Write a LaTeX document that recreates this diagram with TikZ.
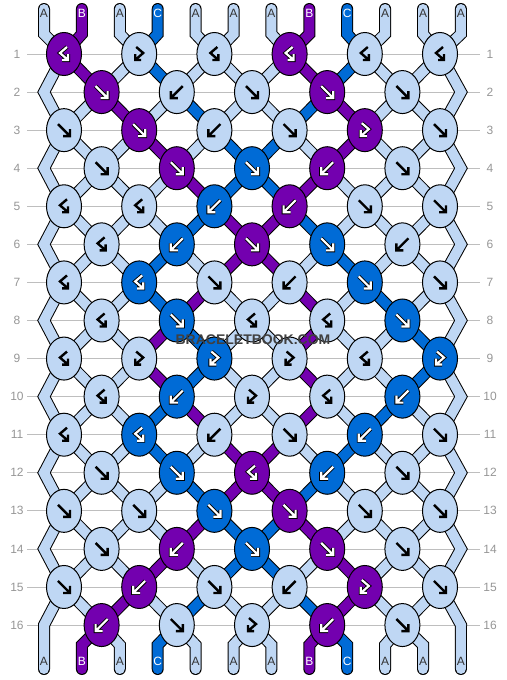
\documentclass[tikz,border=0pt]{standalone}
\usepackage{fontspec}
\setmainfont{Liberation Sans}
\usetikzlibrary{backgrounds,shapes.geometric}
\definecolor{colA}{RGB}{191,215,244}
\definecolor{colB}{RGB}{115,0,175}
\definecolor{colC}{RGB}{0,107,214}
\definecolor{rowgrey}{RGB}{150,150,150}
\definecolor{linegrey}{RGB}{190,190,190}
\tikzstyle{knot}=[ellipse,draw=black,line width=1,minimum width=35,minimum height=43,inner sep=0]
\tikzstyle{glyA}=[black,line width=2.4]
\tikzstyle{glyB}=[white,line width=2.2,preaction={draw=black,line width=4}]
\tikzstyle{glyC}=[glyB]
\tikzstyle{lblA}=[text=black!80,font=\fontsize{12}{12}\selectfont,inner sep=0]
\tikzstyle{lblB}=[text=white,font=\fontsize{12}{12}\selectfont,inner sep=0]
\tikzstyle{lblC}=[lblB]
\tikzstyle{rownum}=[text=rowgrey,font=\fontsize{12}{12}\selectfont,minimum width=20,inner sep=0]
\tikzstyle{gridline}=[linegrey,line width=0.8]
\tikzstyle{wmark}=[text=black!75,font=\bfseries\fontsize{14}{14}\selectfont,inner sep=1]
\tikzset{band1/.style={black,line width=12,line cap=round,line join=miter},
  band2/.style={col#1,line width=10,line cap=round,line join=miter}}
%% knot glyphs: forward, backward, forward-backward, backward-forward
\newcommand{\glyphf}[2]{\draw[gly#2,shift={(#1)}] (-6,-6) -- (6,6) (-1,6) -- (6,6) -- (6,-1);}
\newcommand{\glyphb}[2]{\draw[gly#2,shift={(#1)},xscale=-1] (-6,-6) -- (6,6) (-1,6) -- (6,6) -- (6,-1);}
\newcommand{\glyphfb}[2]{\draw[gly#2,shift={(#1)}] (-3,-7) -- (4,-1) -- (-4,6) (2,6) -- (-4,6) -- (-4,0);}
\newcommand{\glyphbf}[2]{\draw[gly#2,shift={(#1)},xscale=-1] (-3,-7) -- (4,-1) -- (-4,6) (2,6) -- (-4,6) -- (-4,0);}

\begin{document}
\begin{tikzpicture}[x=1pt,y=-1pt]
%%frame
\useasboundingbox (0,0) rectangle (506,680);
%%row numbers
\foreach \r in {1,...,16}{
  \pgfmathsetmacro{\y}{54+38.07*(\r-1)}
  \node[rownum] (nl-\r) at (17,\y) {\r};
  \node[rownum] (nr-\r) at (490,\y) {\r};
}
%%knots
\foreach \kl [count=\r] in {
  {bf/B,fb/A,bf/A,bf/B,bf/A,bf/A},
  {f/B,b/A,f/A,f/B,f/A},
  {f/A,f/B,b/A,f/A,fb/B,f/A},
  {f/A,f/B,f/C,b/B,f/A},
  {bf/A,bf/A,b/C,b/B,f/A,f/A},
  {bf/A,b/C,f/B,f/C,b/A},
  {bf/A,bf/C,f/A,b/A,f/C,f/A},
  {bf/A,f/C,bf/A,bf/A,f/C},
  {bf/A,fb/A,fb/C,fb/A,bf/A,fb/C},
  {bf/A,b/C,fb/A,bf/A,b/C},
  {bf/A,bf/C,b/A,f/A,b/C,f/A},
  {f/A,f/C,bf/B,b/C,f/A},
  {f/A,f/A,f/C,f/B,f/A,f/A},
  {f/A,b/B,f/C,f/B,f/A},
  {f/A,b/B,f/A,b/A,fb/B,f/A},
  {b/B,f/A,fb/A,b/B,f/A}}{
  \foreach \t/\c [count=\i] in \kl {
    \pgfmathsetmacro{\x}{mod(\r,2)==1 ? 64+75.2*(\i-1) : 101.6+75.2*(\i-1)}
    \pgfmathsetmacro{\y}{54+38.07*(\r-1)}
    \node[knot,fill=col\c] (k-\r-\i) at (\x,\y) {};
    \csname glyph\t\endcsname{k-\r-\i}{\c}
  }
}
%%string positions per row
\foreach \r in {1,...,16}{
  \pgfmathsetmacro{\y}{54+38.07*(\r-1)}
  \foreach \p in {0,...,11}{
    \ifodd\r
      \pgfmathtruncatemacro{\i}{\p/2+1}
      \coordinate (s-\r-\p) at (k-\r-\i);
    \else
      \ifnum\p=0 \coordinate (s-\r-\p) at (44,\y);
      \else\ifnum\p=11 \coordinate (s-\r-\p) at (461,\y);
      \else
        \pgfmathtruncatemacro{\i}{(\p+1)/2}
        \coordinate (s-\r-\p) at (k-\r-\i);
      \fi\fi
    \fi
  }
}
%%string ends and letters
\foreach \c [count=\p from 0] in {A,B,A,C,A,A,A,B,C,A,A,A}{
  \pgfmathsetmacro{\x}{44+37.9*\p}
  \coordinate (t-\p) at (\x,9);
  \coordinate (u-\p) at (\x,34);
  \coordinate (d-\p) at (\x,645);
  \coordinate (b-\p) at (\x,669);
  \node[lbl\c] (lt-\p) at (\x,13) {\c};
  \node[lbl\c] (lb-\p) at (\x,661) {\c};
}
%%name
\node[wmark] (logo) at (253,340) {BRACELETBOOK.COM};
\begin{scope}[on background layer]
%%row lines
\foreach \r in {1,...,16}{
  \draw[gridline] (nl-\r) -- (nr-\r);
}
%%strings
\foreach \pass in {1,2}{
  %%side strings
  \draw[band\pass=A] (t-0) -- (u-0) \foreach \r in {1,...,16}{-- (s-\r-0)} -- (d-0) -- (b-0);
  \draw[band\pass=A] (t-11) -- (u-11) \foreach \r in {1,...,16}{-- (s-\r-11)} -- (d-11) -- (b-11);
  %%top
  \foreach \c [count=\p from 0] in {A,B,A,C,A,A,A,B,C,A,A,A}{
    \ifnum\p>0 \ifnum\p<11
      \draw[band\pass=\c] (t-\p) -- (u-\p) -- (s-1-\p);
    \fi\fi
  }
  %%between rows
  \foreach \st [count=\r] in {
    {A,B,A,C,A,A,A,B,C,A,A,A},
    {A,A,B,A,C,A,A,C,B,A,A,A},
    {A,A,A,B,A,C,C,A,B,A,A,A},
    {A,A,A,A,B,C,C,B,A,A,A,A},
    {A,A,A,A,C,B,B,C,A,A,A,A},
    {A,A,A,C,A,B,B,A,C,A,A,A},
    {A,A,A,C,B,A,A,B,A,C,A,A},
    {A,A,A,B,C,A,A,B,A,A,C,A},
    {A,A,A,B,C,A,A,B,A,A,C,A},
    {A,A,A,C,B,A,A,B,A,C,A,A},
    {A,A,A,C,A,B,B,A,C,A,A,A},
    {A,A,A,A,C,B,B,C,A,A,A,A},
    {A,A,A,A,B,C,C,B,A,A,A,A},
    {A,A,A,B,A,C,C,A,B,A,A,A},
    {A,A,B,A,C,A,A,C,B,A,A,A}}{
    \pgfmathtruncatemacro{\rn}{\r+1}
    \foreach \c [count=\p from 0] in \st {
      \ifnum\p>0 \ifnum\p<11
        \draw[band\pass=\c] (s-\r-\p) -- (s-\rn-\p);
      \fi\fi
    }
  }
  %%bottom
  \foreach \c [count=\p from 0] in {A,B,A,C,A,A,A,B,C,A,A,A}{
    \ifnum\p>0 \ifnum\p<11
      \draw[band\pass=\c] (s-16-\p) -- (d-\p) -- (b-\p);
    \fi\fi
  }
}
\end{scope}
\end{tikzpicture}
\end{document}
